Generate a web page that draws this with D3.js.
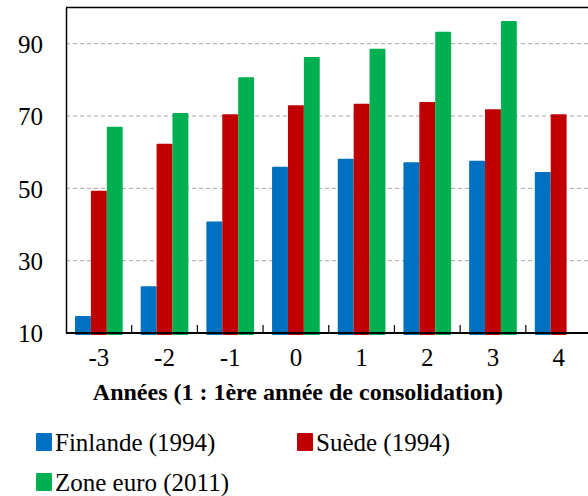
<!DOCTYPE html>
<html>
<head>
<meta charset="utf-8">
<script src="https://cdn.jsdelivr.net/npm/d3@7"></script>
<style>
  body { margin: 0; background: #fff; }
  text { font-family: "Liberation Serif", "Times New Roman", serif; }
</style>
</head>
<body>
<svg id="chart" width="588" height="496"></svg>
<script>
// data
var years = ['-3', '-2', '-1', '0', '1', '2', '3', '4'];
var finlande = [14.7, 22.9, 40.8, 56.0, 58.2, 57.2, 57.6, 54.5];
var suede = [49.3, 62.3, 70.5, 73.0, 73.4, 73.9, 71.9, 70.5];
var zoneEuro = [67.0, 70.8, 80.7, 86.3, 88.6, 93.3, 96.3, null];
var seriesNames = ['Finlande (1994)', 'Suède (1994)', 'Zone euro (2011)'];
var yTicks = [10, 30, 50, 70, 90];
var gridTicks = [30, 50, 70, 90];
var colors = ['#0070C0', '#C00000', '#00B050'];

var allSeries = [finlande, suede, zoneEuro];

var svg = d3.select('#chart');

var x = d3.scaleBand()
    .domain(years)
    .range([66, 591.5]);

var xSub = d3.scaleBand()
    .domain(d3.range(allSeries.length))
    .range([x.bandwidth() * 0.137, x.bandwidth() * 0.863]);

var y = d3.scaleLinear()
    .domain([10, 100])
    .range([333, 7.5]);

// dashed gridlines
svg.append('g')
    .selectAll('line')
    .data(gridTicks)
    .enter().append('line')
    .attr('x1', 66)
    .attr('x2', 588)
    .attr('y1', function (d) { return y(d); })
    .attr('y2', function (d) { return y(d); })
    .attr('stroke', '#a6a6a6')
    .attr('stroke-width', 1)
    .attr('stroke-dasharray', '4,3');

// bars
allSeries.forEach(function (vals, si) {
    svg.append('g')
        .selectAll('rect')
        .data(vals.map(function (v, i) { return { year: years[i], v: v }; })
            .filter(function (d) { return d.v != null; }))
        .enter().append('rect')
        .attr('x', function (d) { return x(d.year) + xSub(si); })
        .attr('width', xSub.bandwidth())
        .attr('y', function (d) { return y(d.v); })
        .attr('height', function (d) { return y(10) + 2 - y(d.v); })
        .attr('rx', 1)
        .attr('fill', colors[si]);
});

// top border
svg.append('line')
    .attr('x1', 66).attr('x2', 588)
    .attr('y1', y(100)).attr('y2', y(100))
    .attr('stroke', '#000').attr('stroke-width', 1.5);

// left axis
var yAxis = d3.axisLeft(y).tickValues(yTicks).tickSize(0).tickPadding(23);
var gy = svg.append('g')
    .attr('transform', 'translate(66,0)')
    .call(yAxis);
gy.select('.domain').attr('stroke', '#000').attr('stroke-width', 1.5);
gy.selectAll('text')
    .attr('font-family', '"Liberation Serif", serif')
    .attr('font-size', 25)
    .attr('fill', '#000')
    .attr('dy', '0.35em');

// bottom axis
svg.append('line')
    .attr('x1', 66).attr('x2', 588)
    .attr('y1', y(10)).attr('y2', y(10))
    .attr('stroke', '#000').attr('stroke-width', 2);

// inner tick marks between categories
svg.append('g')
    .selectAll('line')
    .data(years.slice(1))
    .enter().append('line')
    .attr('x1', function (d) { return x(d); })
    .attr('x2', function (d) { return x(d); })
    .attr('y1', y(10))
    .attr('y2', y(10) - 8)
    .attr('stroke', '#000')
    .attr('stroke-width', 1.2);

svg.append('g')
    .selectAll('text')
    .data(years)
    .enter().append('text')
    .attr('x', function (d) { return x(d) + x.bandwidth() / 2; })
    .attr('y', 366)
    .attr('text-anchor', 'middle')
    .attr('font-size', 25)
    .text(function (d) { return d; });

// axis title
svg.append('text')
    .attr('x', 503)
    .attr('y', 400)
    .attr('text-anchor', 'end')
    .attr('font-size', 24)
    .attr('font-weight', 'bold')
    .text('Années (1 : 1ère année de consolidation)');

// legend
var legendPos = [[36, 442], [297, 442], [36, 482]];
var legend = svg.append('g')
    .selectAll('g')
    .data(seriesNames)
    .enter().append('g')
    .attr('transform', function (d, i) { return 'translate(' + legendPos[i][0] + ',' + legendPos[i][1] + ')'; });

legend.append('rect')
    .attr('x', 0)
    .attr('y', -9)
    .attr('width', 16)
    .attr('height', 18)
    .attr('rx', 1)
    .attr('fill', function (d, i) { return colors[i]; });

legend.append('text')
    .attr('x', 19)
    .attr('y', 0)
    .attr('dy', '0.35em')
    .attr('font-size', 25)
    .text(function (d) { return d; });
</script>
</body>
</html>
